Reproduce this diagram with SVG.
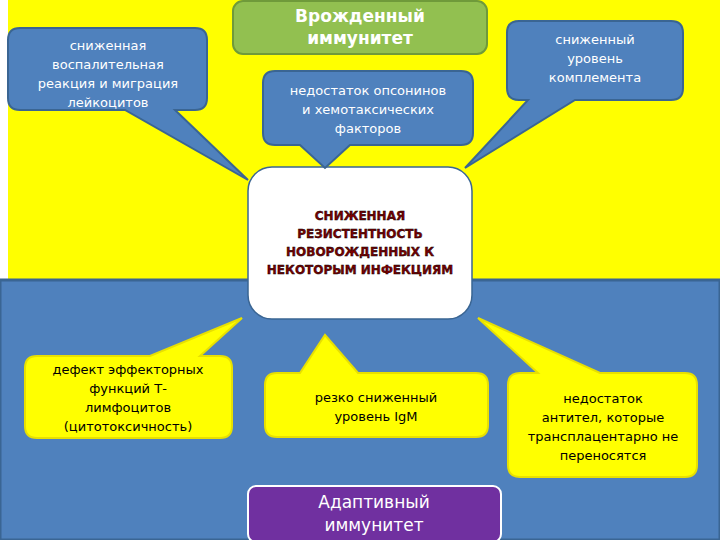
<svg xmlns="http://www.w3.org/2000/svg" width="720" height="540" viewBox="0 0 720 540">
<style>
.cb{fill:#4f81bd;stroke:#3a6593;stroke-width:2}
.cy{fill:#ffff00;stroke:#e8e000;stroke-width:2}
.tw{font-family:"DejaVu Sans",sans-serif;font-size:13px;fill:#fff;text-anchor:middle}
.tk{font-family:"DejaVu Sans",sans-serif;font-size:13px;fill:#000;text-anchor:middle}
.big{font-family:"DejaVu Sans",sans-serif;font-size:17px;fill:#fff;text-anchor:middle;font-weight:bold}
.red{font-family:"DejaVu Sans",sans-serif;font-size:12px;fill:#7a0000;text-anchor:middle;font-weight:bold;stroke:#000;stroke-width:0.4}
</style>
<rect x="0" y="0" width="720" height="282" fill="#fff"/>
<rect x="8" y="0" width="712" height="280" fill="#ffff00"/>
<rect x="0" y="280" width="720" height="260" fill="#4f81bd" stroke="#3a6593" stroke-width="3"/>
<g id="center"><rect x="248" y="167" width="224" height="152" rx="24" fill="#fff" stroke="#3a6593" stroke-width="1.5"/>
<text class="red" x="360" y="220">СНИЖЕННАЯ</text><text class="red" x="360" y="238">РЕЗИСТЕНТНОСТЬ</text><text class="red" x="360" y="256">НОВОРОЖДЕННЫХ К</text><text class="red" x="360" y="274">НЕКОТОРЫМ ИНФЕКЦИЯМ</text></g>
<g id="innate"><rect x="233" y="1" width="254" height="53" rx="10" fill="#92c050" stroke="#6f9a3a" stroke-width="2"/>
<text class="big" x="360" y="22">Врожденный</text><text class="big" x="360" y="44">иммунитет</text></g>
<g id="c1"><path class="cb" d="M20,28 H195 Q207,28 207,40 V98 Q207,110 195,110 H175 L248,180 L125,110 H20 Q8,110 8,98 V40 Q8,28 20,28 Z"/>
<text class="tw" x="108" y="50">сниженная</text><text class="tw" x="108" y="69">воспалительная</text><text class="tw" x="108" y="88">реакция и миграция</text><text class="tw" x="108" y="107">лейкоцитов</text></g>
<g id="c2"><path class="cb" d="M275,71 H461 Q473,71 473,83 V133 Q473,145 461,145 H350 L325,168 L300,145 H275 Q263,145 263,133 V83 Q263,71 275,71 Z"/>
<text class="tw" x="368" y="95">недостаток  опсонинов</text><text class="tw" x="368" y="114">и хемотаксических</text><text class="tw" x="368" y="133">факторов</text></g>
<g id="c3"><path class="cb" d="M519,21 H671 Q683,21 683,33 V88 Q683,100 671,100 H575 L465,168 L528,100 H519 Q507,100 507,88 V33 Q507,21 519,21 Z"/>
<text class="tw" x="595" y="44">сниженный</text><text class="tw" x="595" y="63">уровень</text><text class="tw" x="595" y="82">комплемента</text></g>
<g id="c4"><path class="cy" d="M37,356 H150 L242,318 L200,356 H220 Q232,356 232,368 V426 Q232,438 220,438 H37 Q25,438 25,426 V368 Q25,356 37,356 Z"/>
<text class="tk" x="128" y="374">дефект  эффекторных</text><text class="tk" x="128" y="393">функций Т-</text><text class="tk" x="128" y="412">лимфоцитов</text><text class="tk" x="128" y="431">(цитотоксичность)</text></g>
<g id="c5"><path class="cy" d="M277,373 H300 L325,335 L358,373 H476 Q488,373 488,385 V425 Q488,437 476,437 H277 Q265,437 265,425 V385 Q265,373 277,373 Z"/>
<text class="tk" x="376" y="402">резко сниженный</text><text class="tk" x="376" y="421">уровень IgM</text></g>
<g id="c6"><path class="cy" d="M520,373 H538 L478,318 L600,373 H685 Q697,373 697,385 V465 Q697,477 685,477 H520 Q508,477 508,465 V385 Q508,373 520,373 Z"/>
<text class="tk" x="603" y="403">недостаток</text><text class="tk" x="603" y="422">антител, которые</text><text class="tk" x="603" y="441">трансплацентарно не</text><text class="tk" x="603" y="460">переносятся</text></g>
<g id="adaptive"><rect x="248" y="486" width="253" height="56" rx="8" fill="#7030a0" stroke="#fff" stroke-width="2"/>
<text class="big" x="374" y="508" style="font-weight:normal">Адаптивный</text><text class="big" x="374" y="531" style="font-weight:normal">иммунитет</text></g>
<g id="connectors"/>
</svg>
